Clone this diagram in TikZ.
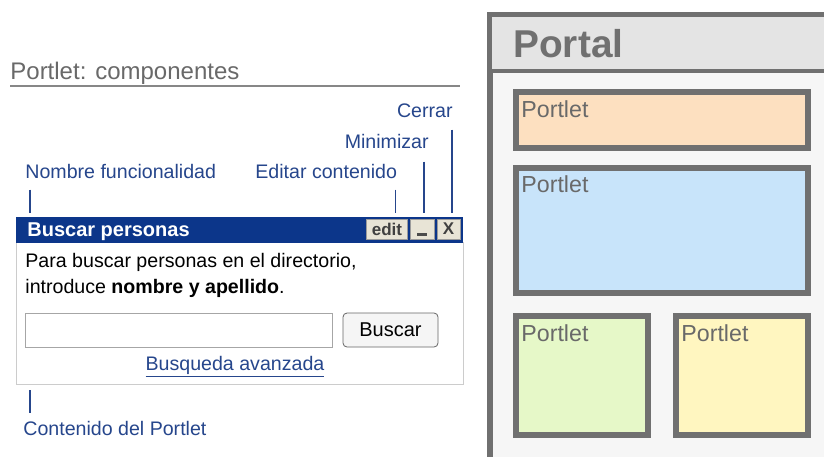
\documentclass[tikz,border=0pt]{standalone}
\usepackage{fontspec}
\setmainfont{Liberation Sans}
\usetikzlibrary{positioning,calc}
\definecolor{barBlue}{RGB}{12,54,138}
\definecolor{lblBlue}{RGB}{38,70,140}
\definecolor{txtGray}{RGB}{105,105,105}
\definecolor{frameGray}{RGB}{112,112,112}
\definecolor{headGray}{RGB}{228,228,228}
\definecolor{portalBg}{RGB}{246,246,246}
\definecolor{btnFill}{RGB}{232,228,214}
\definecolor{peachFill}{RGB}{253,224,192}
\definecolor{skyFill}{RGB}{200,228,250}
\definecolor{limeFill}{RGB}{230,248,200}
\definecolor{lemonFill}{RGB}{255,246,192}
\newcommand\fsLbl{\fontsize{9.8}{12}\selectfont}

\begin{document}
\begin{tikzpicture}[
    x=0.5pt, y=-0.5pt,
    lbl/.style={font=\fsLbl, text=lblBlue, inner sep=0pt},
    tick/.style={draw=lblBlue, line width=0.6pt},
    btn/.style={draw=frameGray!70, fill=btnFill, font=\fontsize{8.5}{9}\selectfont\bfseries, text=black!75, minimum height=10pt, inner sep=0pt},
    slot/.style={draw=frameGray, line width=3pt, inner sep=0pt},
    slotlbl/.style={font=\fontsize{11.6}{13}\selectfont, text=txtGray, inner sep=0pt, anchor=north west}
]
    \clip (0,0) rectangle (824,456);
    \fill[white] (0,0) rectangle (824,456);

    % left: portlet components
    \node[anchor=base west, inner sep=0pt, text=txtGray, font=\fontsize{12}{14}\selectfont] (ttl) at (10,79) {Portlet: componentes};
    \draw[txtGray!80, line width=1pt] (10,86) -- (460,86);

    \node[lbl, anchor=base east] (lblCerrar) at (453,117) {Cerrar};
    \node[lbl, anchor=base east] (lblMin) at (429,148) {Minimizar};
    \node[lbl, anchor=base west] (lblNombre) at (25,178) {Nombre funcionalidad};
    \node[lbl, anchor=base west] (lblEditar) at (255,178) {Editar contenido};

    \node[draw=black!20, fill=white, minimum width=223.5pt, minimum height=71pt, inner sep=0pt] (body) at (239.5,313) {};
    \node[fill=barBlue, minimum width=223.5pt, minimum height=13pt, inner sep=0pt] (bar) at (239.5,230) {};
    \node[anchor=base west, inner sep=0pt, text=white, font=\fontsize{10}{12}\selectfont\bfseries] (barTxt) at (27,236) {Buscar personas};
    \node[btn, minimum width=20.5pt] (bEdit) at (387,229) {edit};
    \node[btn, minimum width=12pt] (bMin) at (422,229) {};
    \draw[black!70, line width=1.5pt] ($(bMin.south)+(-5,-5)$) -- ($(bMin.south)+(5,-5)$);
    \node[btn, minimum width=11.5pt] (bClose) at (448.5,229) {X};

    \node[anchor=base west, inner sep=0pt, font=\fsLbl] (intro) at (25,267) {Para buscar personas en el directorio,};
    \node[anchor=base west, inner sep=0pt, font=\fsLbl] (intro2) at (25,293) {introduce \textbf{nombre y apellido}.};
    \node[draw=black!35, fill=white, minimum width=153.5pt, minimum height=17pt, inner sep=0pt] (field) at (178.5,330) {};
    \node[draw=black!60, fill=black!4, rounded corners=2pt, minimum width=47.5pt, minimum height=17pt, inner sep=0pt, font=\fontsize{10}{12}\selectfont] (bSearch) at (390.5,330) {Buscar};
    \node[lbl, anchor=base, text=lblBlue] (adv) at (235,370) {\underline{Busqueda avanzada}};

    \node[lbl, anchor=base west] (lblCont) at (23,435) {Contenido del Portlet};

    % ticks from labels to the window
    \draw[tick] ($(lblCerrar.east |- bar.north)+(-1,-87)$) -- ($(lblCerrar.east |- bar.north)+(-1,-4)$);
    \draw[tick] ($(lblMin.east |- bar.north)+(-5,-55)$) -- ($(lblMin.east |- bar.north)+(-5,-4)$);
    \draw[tick] ($(lblEditar.east |- bar.north)+(-2,-27)$) -- ($(lblEditar.east |- bar.north)+(-2,-4)$);
    \draw[tick] ($(lblNombre.west |- bar.north)+(5,-27)$) -- ($(lblNombre.west |- bar.north)+(5,-4)$);
    \draw[tick] ($(lblCont.west |- body.south)+(7,6)$) -- ($(lblCont.west |- body.south)+(7,29)$);

    % right: portal
    \draw[draw=frameGray, line width=3pt, fill=portalBg] (490,15) rectangle (850,480);
    \fill[headGray] (491.5,16.5) rectangle (840,70);
    \draw[frameGray, line width=2pt] (490,71) -- (840,71);
    \node[anchor=base west, inner sep=0pt, text=frameGray, font=\fontsize{19.4}{22}\selectfont\bfseries] (portal) at (513,57) {Portal};

    \node[slot, fill=peachFill, minimum width=146pt, minimum height=28pt] (p1) at (662,120) {};
    \node[slot, fill=skyFill, minimum width=146pt, minimum height=62.5pt] (p2) at (662,230) {};
    \node[slot, fill=limeFill, minimum width=66pt, minimum height=59.5pt] (p3) at (582,375.5) {};
    \node[slot, fill=lemonFill, minimum width=66pt, minimum height=59.5pt] (p4) at (742,375.5) {};
    \foreach \p in {p1,p2,p3,p4}
        \node[slotlbl] at ($(\p.north west)+(8,11)$) {Portlet};
\end{tikzpicture}
\end{document}
